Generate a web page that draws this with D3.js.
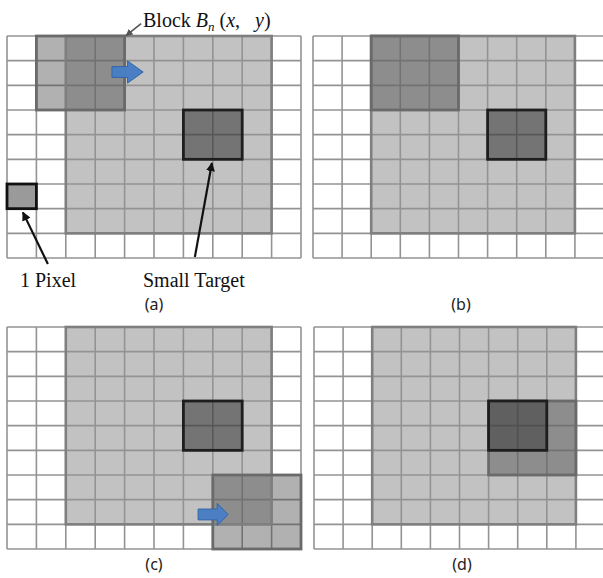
<!DOCTYPE html>
<html><head><meta charset="utf-8">
<script src="https://cdn.jsdelivr.net/npm/d3@7"></script>
<style>html,body{margin:0;padding:0;background:#fff;}svg{display:block;}</style>
</head><body>
<svg id="c" width="603" height="578"></svg>
<script>
// ---- data ----
const panelLabels = ["(a)", "(b)", "(c)", "(d)"];
const nCols = 10, nRows = 9;
const regionCols = [2, 9];      // gray search region, column span
const regionRows = [0, 8];      // row span
const blockCols = [1, 2, 7, 6]; // block top-left column per panel
const blockRows = [0, 0, 6, 3]; // block top-left row per panel
const blockSize = 3;
const targetCol = 6, targetRow = 3, targetSize = 2;
const pixelCol = 0, pixelRow = 6; // "1 Pixel" example (panel a)
// motion arrows: [panelIndex, startCol, headCol, tipCol, centerRow]
const moveArrows = [[0, 3.57, 4.1, 4.63, 1.46], [2, 6.5, 7.15, 7.52, 7.6]];

// ---- layout ----
const panels = [
  {x0: 7, x1: 301, y0: 36, y1: 258, lx: 154, ly: 310},
  {x0: 313, x1: 604, y0: 36, y1: 258, lx: 461, ly: 310},
  {x0: 7, x1: 301, y0: 327, y1: 549, lx: 154, ly: 570},
  {x0: 314, x1: 605, y0: 327, y1: 549, lx: 462, ly: 570}
];

const svg = d3.select("#c");
const defs = svg.append("defs");
defs.append("marker").attr("id", "ah").attr("viewBox", "0 0 10 10")
  .attr("refX", 9).attr("refY", 5).attr("markerWidth", 9).attr("markerHeight", 9)
  .attr("markerUnits", "userSpaceOnUse").attr("orient", "auto")
  .append("path").attr("d", "M0,0L10,5L0,10Z").attr("fill", "#111");
defs.append("marker").attr("id", "ah2").attr("viewBox", "0 0 10 10")
  .attr("refX", 9).attr("refY", 5).attr("markerWidth", 7).attr("markerHeight", 7)
  .attr("markerUnits", "userSpaceOnUse").attr("orient", "auto")
  .append("path").attr("d", "M0,0L10,5L0,10Z").attr("fill", "#555");

panels.forEach((p, i) => {
  const x = d3.scaleLinear().domain([0, nCols]).range([p.x0, p.x1]);
  const y = d3.scaleLinear().domain([0, nRows]).range([p.y0, p.y1]);
  const g = svg.append("g");
  const rect = (c0, r0, c1, r1) => g.append("rect")
    .attr("x", x(c0)).attr("y", y(r0)).attr("width", x(c1) - x(c0)).attr("height", y(r1) - y(r0));

  // region fill
  rect(regionCols[0], regionRows[0], regionCols[1], regionRows[1]).attr("fill", "#c2c2c2");
  if (i === 0) rect(pixelCol, pixelRow, pixelCol + 1, pixelRow + 1).attr("fill", "#9a9a9a");

  // grid lines
  const grid = g.append("g").attr("stroke", "#939393").attr("stroke-width", 1.6);
  d3.range(nCols + 1).forEach(c => grid.append("line")
    .attr("x1", x(c)).attr("x2", x(c)).attr("y1", y(0)).attr("y2", y(nRows)));
  d3.range(nRows + 1).forEach(r => grid.append("line")
    .attr("x1", x(0)).attr("x2", x(nCols)).attr("y1", y(r)).attr("y2", y(r)));

  // target fill (semi-transparent so grid shows through, darker)
  rect(targetCol, targetRow, targetCol + targetSize, targetRow + targetSize)
    .attr("fill", "#000").attr("fill-opacity", 0.4);
  // block fill (semi-transparent)
  const bc = blockCols[i], br = blockRows[i];
  rect(bc, br, bc + blockSize, br + blockSize).attr("fill", "rgb(70,70,70)").attr("fill-opacity", 0.42);

  // region border
  rect(regionCols[0], regionRows[0], regionCols[1], regionRows[1])
    .attr("fill", "none").attr("stroke", "#7f7f7f").attr("stroke-width", 2.6);
  // block border
  rect(bc, br, bc + blockSize, br + blockSize)
    .attr("fill", "none").attr("stroke", "#6a6a6a").attr("stroke-width", 2.8);
  // target border
  rect(targetCol, targetRow, targetCol + targetSize, targetRow + targetSize)
    .attr("fill", "none").attr("stroke", "#1e1e1e").attr("stroke-width", 2.8);
  if (i === 0) rect(pixelCol, pixelRow, pixelCol + 1, pixelRow + 1)
    .attr("fill", "none").attr("stroke", "#111").attr("stroke-width", 2.8);

  // motion arrows
  moveArrows.filter(a => a[0] === i).forEach(a => {
    const [, s, h, t, cr] = a;
    const bh = (y(1) - y(0)) * 0.22, hh = (y(1) - y(0)) * 0.45;
    const yc = y(cr);
    const pts = [[x(s), yc - bh], [x(h), yc - bh], [x(h), yc - hh], [x(t), yc],
                 [x(h), yc + hh], [x(h), yc + bh], [x(s), yc + bh]];
    g.append("path").attr("d", "M" + pts.join("L") + "Z")
      .attr("fill", "#4a7fc4").attr("stroke", "#3565a5").attr("stroke-width", 1);
  });

  // panel label
  svg.append("text").attr("x", p.lx).attr("y", p.ly).attr("text-anchor", "middle")
    .attr("font-family", "'Noto Sans', sans-serif").attr("font-size", 16).attr("fill", "#222")
    .text(panelLabels[i]);

  if (i === 0) {
    const serif = "'Liberation Serif', 'Times New Roman', serif";
    // annotation pointers
    g.append("line").attr("x1", x(1.39)).attr("y1", y(9.24)).attr("x2", x(0.54)).attr("y2", y(7.15))
      .attr("stroke", "#111").attr("stroke-width", 2.2).attr("marker-end", "url(#ah)");
    g.append("line").attr("x1", x(6.39)).attr("y1", y(8.96)).attr("x2", x(6.97)).attr("y2", y(5.15))
      .attr("stroke", "#111").attr("stroke-width", 2.2).attr("marker-end", "url(#ah)");
    g.append("line").attr("x1", x(4.56)).attr("y1", y(-0.5)).attr("x2", x(4.05)).attr("y2", y(-0.02))
      .attr("stroke", "#555").attr("stroke-width", 1.6).attr("marker-end", "url(#ah2)");

    svg.append("text").attr("x", 20).attr("y", 287).attr("font-family", serif)
      .attr("font-size", 20).attr("fill", "#111").text("1 Pixel");
    svg.append("text").attr("x", 143).attr("y", 287).attr("font-family", serif)
      .attr("font-size", 20).attr("fill", "#111").text("Small Target");
    const t = svg.append("text").attr("x", 143).attr("y", 27).attr("font-family", serif)
      .attr("font-size", 20).attr("fill", "#111");
    t.append("tspan").text("Block ");
    t.append("tspan").attr("font-style", "italic").text("B");
    t.append("tspan").attr("font-style", "italic").attr("font-size", 13).attr("dy", 4).text("n");
    t.append("tspan").attr("dy", -4).text(" (");
    t.append("tspan").attr("font-style", "italic").text("x");
    t.append("tspan").text(",\u2002 ");
    t.append("tspan").attr("font-style", "italic").text("y");
    t.append("tspan").text(")");
  }
});
</script>
</body></html>
